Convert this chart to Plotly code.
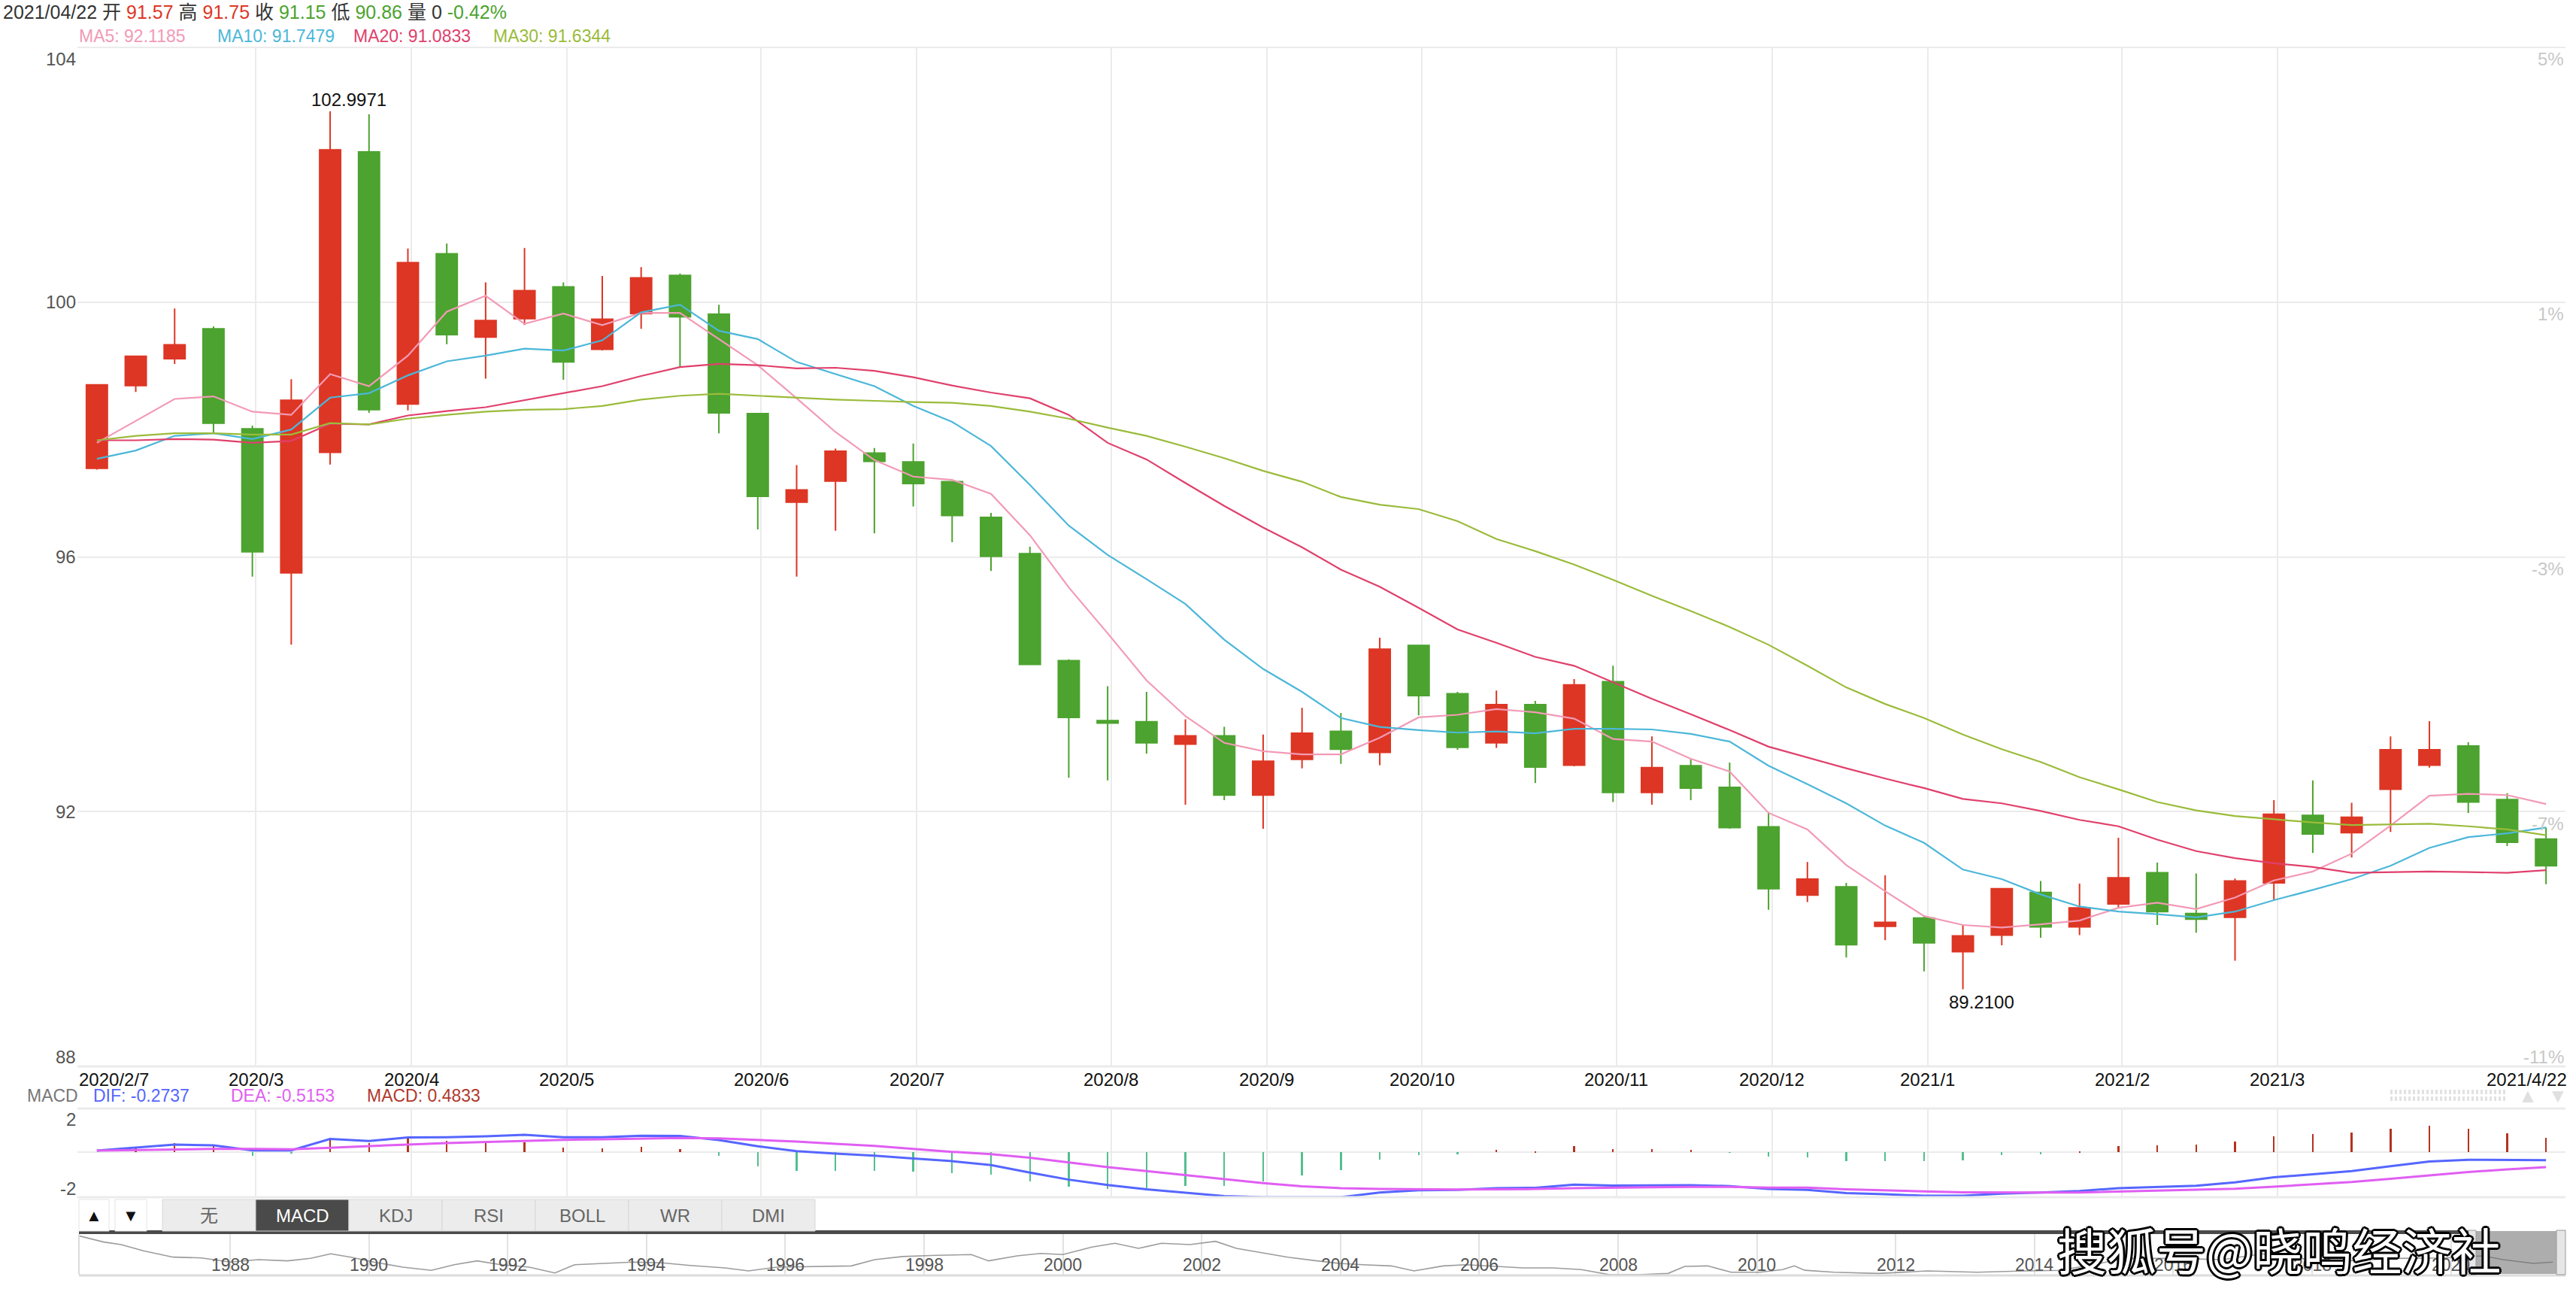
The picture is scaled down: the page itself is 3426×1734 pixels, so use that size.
import plotly.graph_objects as go
import pandas as pd

W, H = 3426, 1734

# ---------------- data ----------------
dates = pd.date_range("2020-02-07", periods=63, freq="7D").strftime("%Y/%m/%d").tolist() + ["2021/04/22"]

opens = [97.39, 98.69, 99.11, 99.58, 98.01, 95.75, 97.64, 102.36, 98.40, 100.76,
         99.45, 99.74, 100.24, 99.26, 99.82, 100.42, 99.81, 98.25, 96.86, 97.19,
         97.63, 97.49, 97.18, 96.62, 96.05, 94.37, 93.43, 93.41, 93.06, 93.19,
         92.26, 92.82, 93.26, 92.93, 94.61, 93.85, 93.08, 93.68, 92.73, 94.04,
         92.30, 92.72, 92.38, 91.76, 90.69, 90.82, 90.20, 90.33, 89.80, 90.06,
         90.73, 90.19, 90.55, 91.04, 90.40, 90.34, 90.88, 91.94, 91.67, 92.35,
         92.73, 93.03, 92.19, 91.57]
highs = [98.71, 99.16, 99.90, 99.62, 98.06, 98.79, 102.9971, 102.95, 100.84, 100.92,
         100.31, 100.85, 100.31, 100.41, 100.55, 100.45, 99.96, 98.26, 97.44, 97.70,
         97.71, 97.78, 97.19, 96.69, 96.16, 94.39, 93.97, 93.88, 93.45, 93.33,
         93.21, 93.63, 93.55, 94.73, 94.62, 93.88, 93.90, 93.74, 94.08, 94.29,
         93.18, 92.82, 92.77, 91.99, 91.21, 90.88, 91.00, 90.36, 90.23, 90.80,
         90.91, 90.87, 91.59, 91.20, 91.03, 90.95, 92.18, 92.49, 92.14, 93.18,
         93.42, 93.09, 92.29, 91.75]
lows = [97.37, 98.59, 99.03, 97.95, 95.69, 94.62, 97.45, 98.26, 98.30, 99.34,
        98.80, 99.64, 98.78, 99.24, 99.58, 98.98, 97.94, 96.43, 95.69, 96.41,
        96.37, 96.79, 96.23, 95.78, 94.30, 92.53, 92.49, 92.91, 92.11, 92.18,
        91.73, 92.68, 92.75, 92.73, 93.51, 92.97, 93.00, 92.45, 92.71, 92.15,
        92.11, 92.18, 91.73, 90.46, 90.58, 89.71, 89.98, 89.49, 89.21, 89.90,
        90.02, 90.06, 90.49, 90.22, 90.10, 89.66, 90.61, 91.35, 91.28, 91.68,
        92.69, 91.98, 91.46, 90.86]
closes = [98.70, 99.15, 99.33, 98.10, 96.08, 98.46, 102.39, 98.31, 100.62, 99.49,
          99.71, 100.18, 99.06, 99.73, 100.38, 99.77, 98.26, 96.95, 97.05, 97.66,
          97.50, 97.15, 96.65, 96.01, 94.31, 93.48, 93.39, 93.08, 93.19, 92.26,
          92.79, 93.23, 92.98, 94.55, 93.82, 93.01, 93.68, 92.70, 93.99, 92.30,
          92.69, 92.37, 91.75, 90.79, 90.94, 89.91, 90.26, 89.94, 90.05, 90.79,
          90.19, 90.49, 90.96, 90.43, 90.31, 90.91, 91.96, 91.65, 91.91, 92.97,
          92.97, 92.15, 91.52, 91.15]

ma5 = [97.79, 98.13, 98.48, 98.52, 98.28, 98.23, 98.87, 98.68, 99.16, 99.85,
       100.10, 99.66, 99.82, 99.64, 99.83, 99.83, 99.42, 99.01, 98.49, 97.96,
       97.52, 97.26, 97.21, 96.99, 96.34, 95.52, 94.80, 94.06, 93.50, 93.08,
       92.95, 92.90, 92.90, 93.16, 93.48, 93.52, 93.61, 93.56, 93.46, 93.14,
       93.10, 92.83, 92.63, 91.98, 91.72, 91.16, 90.75, 90.36, 90.22, 90.18,
       90.23, 90.29, 90.49, 90.57, 90.47, 90.65, 90.92, 91.06, 91.34, 91.78,
       92.25, 92.28, 92.26, 92.12]
ma10 = [97.54, 97.67, 97.90, 97.94, 97.85, 98.00, 98.50, 98.57, 98.85, 99.07,
        99.16, 99.27, 99.24, 99.40, 99.84, 99.96, 99.55, 99.42, 99.06, 98.87,
        98.68, 98.37, 98.12, 97.74, 97.13, 96.49, 96.03, 95.65, 95.26, 94.70,
        94.24, 93.88, 93.47, 93.33, 93.28, 93.24, 93.26, 93.23, 93.30, 93.30,
        93.29, 93.22, 93.10, 92.72, 92.43, 92.13, 91.78, 91.51, 91.09, 90.94,
        90.70, 90.51, 90.43, 90.39, 90.34, 90.43, 90.61, 90.77, 90.94, 91.15,
        91.43, 91.60, 91.66, 91.75]
ma20 = [97.83, 97.83, 97.85, 97.84, 97.79, 97.82, 98.09, 98.08, 98.22, 98.29,
        98.35, 98.46, 98.57, 98.68, 98.84, 98.98, 99.03, 99.01, 98.96, 98.97,
        98.92, 98.82, 98.69, 98.58, 98.49, 98.23, 97.79, 97.53, 97.16, 96.80,
        96.46, 96.15, 95.80, 95.53, 95.20, 94.86, 94.65, 94.43, 94.29, 94.03,
        93.77, 93.53, 93.28, 93.02, 92.85, 92.68, 92.52, 92.37, 92.20, 92.13,
        92.01, 91.87, 91.77, 91.56, 91.38, 91.27, 91.19, 91.13, 91.04, 91.05,
        91.06, 91.05, 91.04, 91.08]
ma30 = [97.83, 97.90, 97.94, 97.94, 97.92, 97.92, 98.10, 98.08, 98.17, 98.23,
        98.28, 98.31, 98.32, 98.37, 98.47, 98.53, 98.56, 98.53, 98.50, 98.47,
        98.45, 98.43, 98.42, 98.37, 98.28, 98.17, 98.03, 97.90, 97.73, 97.55,
        97.35, 97.18, 96.94, 96.82, 96.75, 96.56, 96.28, 96.09, 95.88, 95.64,
        95.39, 95.15, 94.90, 94.62, 94.29, 93.95, 93.69, 93.47, 93.21, 92.98,
        92.78, 92.54, 92.35, 92.15, 92.02, 91.93, 91.88, 91.83, 91.79, 91.80,
        91.81, 91.77, 91.72, 91.63]
ma_legend = [("MA5", 92.1185), ("MA10", 91.7479), ("MA20", 91.0833), ("MA30", 91.6344)]

dif = [0.05, 0.16, 0.26, 0.23, 0.06, 0.06, 0.45, 0.38, 0.50, 0.51,
       0.54, 0.59, 0.51, 0.51, 0.56, 0.55, 0.41, 0.20, 0.03, -0.05,
       -0.12, -0.22, -0.31, -0.44, -0.70, -0.94, -1.12, -1.27, -1.38, -1.50,
       -1.54, -1.54, -1.54, -1.38, -1.30, -1.29, -1.23, -1.22, -1.11, -1.14,
       -1.13, -1.13, -1.16, -1.26, -1.29, -1.40, -1.44, -1.49, -1.49, -1.42,
       -1.38, -1.33, -1.23, -1.19, -1.15, -1.03, -0.86, -0.76, -0.65, -0.48,
       -0.32, -0.26, -0.26, -0.2737]
dea = [0.05, 0.07, 0.09, 0.11, 0.11, 0.10, 0.15, 0.21, 0.26, 0.31,
       0.35, 0.39, 0.42, 0.44, 0.46, 0.48, 0.47, 0.42, 0.36, 0.28,
       0.21, 0.11, 0.01, -0.07, -0.19, -0.35, -0.51, -0.65, -0.79, -0.93,
       -1.06, -1.17, -1.23, -1.26, -1.27, -1.28, -1.27, -1.26, -1.23, -1.21,
       -1.20, -1.19, -1.19, -1.21, -1.21, -1.27, -1.31, -1.34, -1.37, -1.38,
       -1.38, -1.38, -1.35, -1.32, -1.28, -1.25, -1.18, -1.10, -1.02, -0.91,
       -0.79, -0.68, -0.59, -0.5153]
macd_hist = [0.0, 0.18, 0.30, 0.20, -0.14, -0.03, 0.50, 0.31, 0.47, 0.38,
             0.35, 0.34, 0.16, 0.14, 0.17, 0.10, -0.14, -0.48, -0.63, -0.65,
             -0.65, -0.66, -0.71, -0.78, -0.99, -1.18, -1.25, -1.24, -1.16, -1.15,
             -1.01, -0.79, -0.61, -0.26, -0.09, -0.08, 0.07, 0.03, 0.21, 0.10,
             0.10, 0.08, -0.01, -0.15, -0.19, -0.32, -0.32, -0.32, -0.28, -0.11,
             -0.07, 0.03, 0.20, 0.23, 0.26, 0.35, 0.54, 0.62, 0.68, 0.80,
             0.89, 0.80, 0.64, 0.4833]
macd_legend = [("DIF", -0.2737), ("DEA", -0.5153), ("MACD", 0.4833)]

month_idx = [4, 8, 12, 17, 21, 26, 30, 34, 39, 43, 47, 52, 56]
month_labels = ["2020/3", "2020/4", "2020/5", "2020/6", "2020/7", "2020/8", "2020/9",
                "2020/10", "2020/11", "2020/12", "2021/1", "2021/2", "2021/3"]
first_label, last_label = "2020/2/7", "2021/4/22"

price_ticks = [88, 92, 96, 100, 104]
pct_labels = ["-11%", "-7%", "-3%", "1%", "5%"]
macd_tick_labels = ["2", "-2"]

nav_year = [1985.82, 1986.18, 1986.43, 1986.75, 1987.18, 1987.59, 1988.00, 1988.41, 1988.83, 1989.16,
            1989.45, 1989.74, 1990.07, 1990.49, 1990.90, 1991.23, 1991.56, 1991.90, 1992.31, 1992.68,
            1992.97, 1993.38, 1993.81, 1994.22, 1994.63, 1995.13, 1995.47, 1995.88, 1996.45, 1996.95,
            1997.29, 1997.69, 1998.18, 1998.68, 1998.93, 1999.34, 1999.68, 2000.00, 2000.42, 2000.75,
            2001.09, 2001.42, 2001.83, 2002.20, 2002.50, 2002.82, 2003.24, 2003.66, 2003.98, 2004.32,
            2004.73, 2005.06, 2005.48, 2005.81, 2006.22, 2006.63, 2007.06, 2007.47, 2007.88, 2008.29,
            2008.72, 2008.96, 2009.29, 2009.63, 2010.04, 2010.37, 2010.54, 2010.69, 2011.11, 2011.75,
            2012.46, 2013.17, 2013.87, 2014.37, 2014.94, 2015.29, 2016.00, 2016.71, 2017.28, 2017.77,
            2018.49, 2019.19, 2019.91, 2020.47, 2020.75, 2021.19, 2021.47]
nav_value = [127.3, 118.2, 114.6, 105.5, 96.4, 95.3, 89.2, 92.8, 91.0, 94.6,
             101.2, 96.4, 89.2, 81.9, 77.2, 85.5, 91.0, 85.5, 81.9, 73.5,
             85.5, 87.3, 89.2, 88.1, 84.4, 80.8, 76.4, 81.9, 83.0, 83.7,
             92.8, 97.3, 99.0, 100.1, 91.0, 98.2, 101.8, 100.1, 111.0, 116.4,
             109.1, 116.4, 114.6, 119.3, 109.1, 103.7, 96.4, 91.0, 87.3, 85.5,
             83.7, 76.4, 83.7, 85.5, 83.0, 80.8, 80.8, 78.3, 71.0, 71.0,
             72.8, 83.0, 83.7, 74.6, 74.6, 78.3, 83.7, 77.4, 74.6, 72.8,
             76.4, 74.6, 76.4, 77.2, 87.3, 94.6, 94.6, 92.8, 101.2, 94.6,
             91.0, 94.6, 95.3, 98.2, 92.8, 87.3, 89.2]
nav_year_ticks = list(range(1988, 2021, 2))

tabs = ["无", "MACD", "KDJ", "RSI", "BOLL", "WR", "DMI"]
active_tab = "MACD"

header_date = "2021/04/22"
header_volume = 0
header_change = "-0.42%"
watermark = "搜狐号@晓鸣经济社"

# ---------------- style ----------------
RED, GREEN = "#dd3624", "#4ca32f"
MA_COLORS = ["#f29ab6", "#4cb7d9", "#e0406c", "#9bbb3b"]
DIF_C, DEA_C, MACD_C = "#5566ff", "#e05ef2", "#b0392c"
HIST_UP, HIST_DN = "#b5321f", "#53bf8f"
GRID = "#ebebeb"
FONT = "Liberation Sans, Arial, Helvetica, 'Noto Sans CJK SC', sans-serif"

X0, X1 = 103, 3412
MAIN_T, MAIN_B = 63, 1418
MACD_T, MACD_B = 1474, 1592
NAV_T, NAV_B = 1641, 1695
NAV_X0 = 105
GRID_OFF = 0.09


def px(x):
    return x / W


def py(y):
    return 1 - y / H


idx = list(range(len(closes)))
fig = go.Figure()

fig.add_trace(go.Candlestick(
    x=idx, open=opens, high=highs, low=lows, close=closes, text=dates,
    increasing=dict(line=dict(color=RED, width=2), fillcolor=RED),
    decreasing=dict(line=dict(color=GREEN, width=2), fillcolor=GREEN),
    whiskerwidth=0, xaxis="x", yaxis="y", showlegend=False))

for ma, col in zip([ma5, ma10, ma20, ma30], MA_COLORS):
    fig.add_trace(go.Scatter(x=idx, y=ma, mode="lines", line=dict(color=col, width=2.2),
                             xaxis="x", yaxis="y", hoverinfo="skip"))

fig.add_trace(go.Bar(x=idx, y=macd_hist, width=0.045,
                     marker=dict(color=[HIST_UP if v >= 0 else HIST_DN for v in macd_hist], line=dict(width=0)),
                     xaxis="x2", yaxis="y2"))
fig.add_trace(go.Scatter(x=idx, y=dif, mode="lines", line=dict(color=DIF_C, width=3), xaxis="x2", yaxis="y2"))
fig.add_trace(go.Scatter(x=idx, y=dea, mode="lines", line=dict(color=DEA_C, width=3), xaxis="x2", yaxis="y2"))

fig.add_trace(go.Scatter(x=nav_year, y=nav_value, mode="lines", line=dict(color="#9c9c9c", width=1.6),
                         xaxis="x3", yaxis="y3"))

grid_pos = [i + GRID_OFF for i in month_idx]
common_x = dict(range=[-0.5, 63.5], tickvals=grid_pos, showticklabels=False, showgrid=True,
                gridcolor=GRID, gridwidth=2, zeroline=False, showline=False, fixedrange=True,
                domain=[px(X0), px(X1)])

nav_x_lo = 1988 + (NAV_X0 - 306) / 92.3
nav_x_hi = 1988 + (X1 - 306) / 92.3

fig.update_layout(
    width=W, height=H, autosize=False,
    margin=dict(l=0, r=0, t=0, b=0),
    paper_bgcolor="white", plot_bgcolor="white",
    showlegend=False, boxgap=0.46, boxgroupgap=0, bargap=0,
    font=dict(family=FONT, size=24, color="#555"),
    xaxis=dict(**common_x, anchor="y", rangeslider=dict(visible=False)),
    yaxis=dict(domain=[py(MAIN_B), py(MAIN_T)], range=[88, 104], tickvals=price_ticks,
               showticklabels=False, showgrid=True, gridcolor=GRID, gridwidth=2,
               zeroline=False, fixedrange=True, anchor="x"),
    xaxis2=dict(**common_x, anchor="y2"),
    yaxis2=dict(domain=[py(MACD_B), py(MACD_T)], range=[-1.54, 1.49], tickvals=[0],
                showticklabels=False, showgrid=True, gridcolor=GRID, gridwidth=2,
                zeroline=False, fixedrange=True, anchor="x2"),
    xaxis3=dict(domain=[px(NAV_X0), px(X1)], range=[nav_x_lo, nav_x_hi], tickvals=nav_year_ticks,
                showticklabels=False, showgrid=True, gridcolor="#e2e2e2", gridwidth=2,
                zeroline=False, showline=False, fixedrange=True, anchor="y3"),
    yaxis3=dict(domain=[py(NAV_B), py(NAV_T)], range=[71, 129.8], showticklabels=False,
                showgrid=False, zeroline=False, fixedrange=True, anchor="x3"),
)

shapes = []


def hline(y, x0=X0, x1=X1, color=GRID, width=2):
    shapes.append(dict(type="line", xref="paper", yref="paper", x0=px(x0), x1=px(x1),
                       y0=py(y), y1=py(y), line=dict(color=color, width=width)))


def rect(x0, y0, x1, y1, fill, line_color=None, lw=0, layer="above"):
    shapes.append(dict(type="rect", xref="paper", yref="paper", x0=px(x0), x1=px(x1),
                       y0=py(y1), y1=py(y0), fillcolor=fill, layer=layer,
                       line=dict(color=line_color or fill, width=lw)))


hline(MAIN_T)
hline(MAIN_B, width=3)
hline(MACD_T, width=3)
hline(MACD_B, width=3)
hline(NAV_B + 1, x0=NAV_X0, color="#dcdcdc", width=3)
shapes.append(dict(type="line", xref="paper", yref="paper", x0=px(NAV_X0), x1=px(NAV_X0),
                   y0=py(NAV_B), y1=py(NAV_T), line=dict(color="#dcdcdc", width=2)))

# navigator top bar and selection window
rect(NAV_X0, 1636, 3287, 1641, "#4a4a4a")
rect(3290, 1637, 3400, 1694, "rgba(105,105,105,0.55)")
rect(3283, 1636, 3293, 1695, "#e6e6e6", "#9a9a9a", 1)
rect(3400, 1636, 3412, 1695, "#e6e6e6", "#9a9a9a", 1)

# buttons
rect(105, 1595, 145, 1637, "white", "#e4e4e4", 1)
rect(153, 1595, 195, 1637, "white", "#e4e4e4", 1)
TAB_X0, TAB_W = 216, 124
for k, t in enumerate(tabs):
    rect(TAB_X0 + k * TAB_W, 1595, TAB_X0 + (k + 1) * TAB_W, 1637,
         "#4a4a4a" if t == active_tab else "#ececec", "#d8d8d8", 1)

# dotted scroll control
for yy in (1452, 1461):
    shapes.append(dict(type="line", xref="paper", yref="paper", x0=px(3179), x1=px(3333),
                       y0=py(yy), y1=py(yy), line=dict(color="#e2e2e2", width=6, dash="3px,3px")))

ann = []


def text(x, y, s, size=24, color="#555", xa="left", ya="middle", family=FONT, **kw):
    fnt = dict(family=family, size=size, color=color)
    fnt.update(kw.pop("fontextra", {}))
    ann.append(dict(x=px(x), y=py(y), xref="paper", yref="paper", text=s, showarrow=False,
                    xanchor=xa, yanchor=ya, font=fnt, **kw))


# header
def span(v, c):
    return f"<span style='color:{c}'>{v}</span>"


hdr = (f"{header_date} 开 {span(f'{opens[-1]:.2f}', RED)} 高 {span(f'{highs[-1]:.2f}', RED)} "
       f"收 {span(f'{closes[-1]:.2f}', GREEN)} 低 {span(f'{lows[-1]:.2f}', GREEN)} "
       f"量 {header_volume} {span(header_change, GREEN)}")
text(2, 16, hdr, size=25, color="#333")
for (name, v), xx, col in zip(ma_legend, [103, 287, 468, 654], MA_COLORS):
    text(xx, 48, f"{name}: {v:.4f}", size=23, color=col)

# price axis labels
for v, pl in zip(price_ticks, pct_labels):
    yy = MAIN_T + (104 - v) * (MAIN_B - MAIN_T) / 16
    ly = yy
    if v == 104:
        ly = yy + 16
    if v == 88:
        ly = yy - 13
    text(X0, ly, str(v), size=24, color="#555", xa="right")
    ry = yy + 16 if v != 88 else yy - 13
    text(X1, ry, pl, size=24, color="#c8c8c8", xa="right")

# x labels
step = (X1 - X0) / 64
for i, lab in zip(month_idx, month_labels):
    text(X0 + step * (i + 0.5 + GRID_OFF), 1435, lab, size=24, color="#111", xa="center")
text(X0, 1435, first_label, size=24, color="#111", xa="left")
text(X1 + 4, 1435, last_label, size=24, color="#111", xa="right")

# max/min labels
imax = highs.index(max(highs))
imin = lows.index(min(lows))
ann.append(dict(x=imax, y=highs[imax], xref="x", yref="y", text=f"{highs[imax]:.4f}", showarrow=False,
                xanchor="center", yanchor="bottom", xshift=25, yshift=0,
                font=dict(family=FONT, size=24, color="#111")))
ann.append(dict(x=imin, y=lows[imin], xref="x", yref="y", text=f"{lows[imin]:.4f}", showarrow=False,
                xanchor="center", yanchor="top", xshift=25, yshift=-1,
                font=dict(family=FONT, size=24, color="#111")))

# macd legend
text(34, 1457, "MACD", size=23, color="#777")
for (name, v), xx, col in zip(macd_legend, [122, 305, 486], [DIF_C, DEA_C, MACD_C]):
    text(xx, 1457, f"{name}: {v:.4f}", size=23, color=col)
text(X0, 1488, macd_tick_labels[0], size=24, color="#555", xa="right")
text(X0, 1580, macd_tick_labels[1], size=24, color="#555", xa="right")

# buttons text
text(125, 1616, "▲", size=22, color="#111", xa="center")
text(174, 1616, "▼", size=22, color="#111", xa="center")
for k, t in enumerate(tabs):
    text(TAB_X0 + k * TAB_W + TAB_W / 2, 1616, t, size=24,
         color="white" if t == active_tab else "#666", xa="center")

# navigator years
for yv in nav_year_ticks:
    text(306 + (yv - 1988) * 92.3, 1682, str(yv), size=23, color="#555", xa="center")

# scroll arrows
text(3362, 1457, "▲", size=26, color="#e0e0e0", xa="center")
text(3402, 1457, "▼", size=26, color="#e0e0e0", xa="center")

# watermark (white text, black outline via text-shadow)
WM_FONT = "'Noto Sans CJK SC', sans-serif"
outline = ", ".join(f"{dx}px {dy}px 0 #000" for dx, dy in
                    [(-3, 0), (3, 0), (0, -3), (0, 3), (-2, -2), (2, 2), (-2, 2), (2, -2)])
text(3031, 1660, watermark, size=66, color="#fff", xa="center", family=WM_FONT,
     fontextra=dict(shadow=outline))

fig.update_layout(shapes=shapes, annotations=ann)
fig.write_html("out.html", config={"displayModeBar": False},
               post_script="document.body.style.margin='0px';document.body.style.overflow='hidden';")
